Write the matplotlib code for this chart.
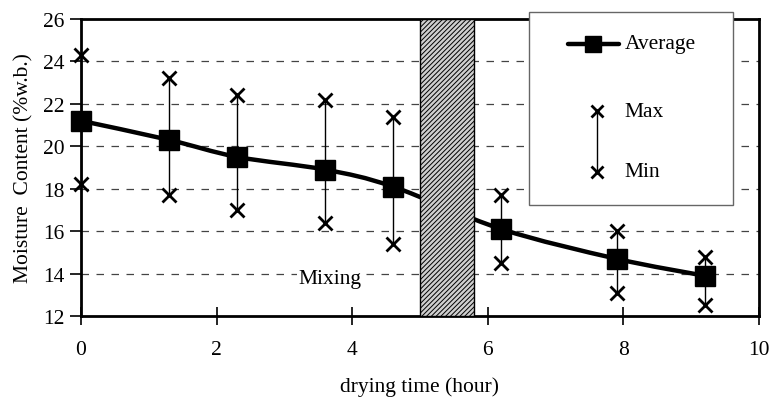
import numpy as np
import matplotlib
matplotlib.use("Agg")
import matplotlib.pyplot as plt
from matplotlib.path import Path
from matplotlib.patches import PathPatch, Rectangle
from matplotlib.lines import Line2D

plt.rcParams['font.family'] = ['Liberation Serif', 'DejaVu Serif']
plt.rcParams['hatch.linewidth'] = 0.7
plt.rcParams['hatch.color'] = '#505050'

# drying time (hour) and moisture content (%w.b.)
hours = [0, 1.3, 2.3, 3.6, 4.6, 6.2, 7.9, 9.2]
avg_mc = [21.2, 20.3, 19.5, 18.9, 18.1, 16.1, 14.7, 13.9]
max_mc = [24.3, 23.2, 22.4, 22.2, 21.4, 17.7, 16.0, 14.8]
min_mc = [18.2, 17.7, 17.0, 16.4, 15.4, 14.5, 13.1, 12.5]
mixing_start, mixing_end = 5.0, 5.8

FS = 15.5


def smooth_path(xs, ys):
    # excel-like smoothed line, bezier segments through the points
    pts = np.column_stack([xs, ys])
    verts = [pts[0]]
    codes = [Path.MOVETO]
    n = len(pts)
    for i in range(n - 1):
        p0 = pts[max(i - 1, 0)]
        p1 = pts[i]
        p2 = pts[i + 1]
        p3 = pts[min(i + 2, n - 1)]
        c1 = p1 + (p2 - p0) / 6.0
        c2 = p2 - (p3 - p1) / 6.0
        verts += [c1, c2, p2]
        codes += [Path.CURVE4] * 3
    return Path(verts, codes)


fig = plt.figure(figsize=(7.72, 4.06), dpi=100)
ax = fig.add_axes([0.105, 0.219, 0.878, 0.732])

ax.set_xlim(0, 10)
ax.set_ylim(12, 26)
ax.set_xticks([0, 2, 4, 6, 8, 10])
ax.set_yticks([12, 14, 16, 18, 20, 22, 24, 26])

for y in [14, 16, 18, 20, 22, 24]:
    ax.axhline(y, color='#444444', lw=0.9, ls=(0, (6, 6)), zorder=0)

ax.add_patch(PathPatch(smooth_path(hours, avg_mc), fill=False, lw=3.2,
                       edgecolor='black', zorder=2, capstyle='round'))
ax.plot(hours, avg_mc, ls='none', marker='s', ms=15, color='black',
        zorder=3, clip_on=False)

ax.vlines(hours, min_mc, max_mc, color='black', lw=1.0, zorder=3)
ax.plot(hours, max_mc, ls='none', marker='x', ms=10, mew=2, color='black',
        zorder=4, clip_on=False)
ax.plot(hours, min_mc, ls='none', marker='x', ms=10, mew=2, color='black',
        zorder=4, clip_on=False)

ax.add_patch(Rectangle((mixing_start, 12), mixing_end - mixing_start, 14,
                       facecolor='#cfcfcf', edgecolor='black', lw=1.0,
                       hatch='///////', zorder=5))
ax.text(3.67, 13.75, 'Mixing', fontsize=FS, ha='center', va='center',
        zorder=6, bbox=dict(facecolor='white', edgecolor='none', pad=1))

for s in ax.spines.values():
    s.set_linewidth(2.0)
ax.tick_params(axis='y', direction='out', length=8, width=1.2, labelsize=FS, pad=4)
ax.tick_params(axis='x', direction='inout', length=13, width=1.2, labelsize=FS, pad=11)

ax.set_ylabel('Moisture  Content (%w.b.)', fontsize=FS, labelpad=7)
ax.set_xlabel('drying time (hour)', fontsize=FS, labelpad=12)

# legend box drawn by hand, it sits over the top frame
tr = ax.transAxes
ax.add_patch(Rectangle((0.661, 0.374), 0.301, 0.65, transform=tr,
                       facecolor='white', edgecolor='#666666', lw=1.0,
                       zorder=10, clip_on=False))
ax.add_line(Line2D([0.718, 0.794], [0.916, 0.916], transform=tr, color='black',
                   lw=3.2, solid_capstyle='round', zorder=11, clip_on=False))
ax.add_line(Line2D([0.756], [0.916], transform=tr, color='black', marker='s',
                   ms=12, zorder=11, clip_on=False))
ax.add_line(Line2D([0.761, 0.761], [0.485, 0.690], transform=tr, color='black',
                   lw=1.0, zorder=11, clip_on=False))
ax.add_line(Line2D([0.761, 0.761], [0.485, 0.690], transform=tr, color='black',
                   ls='none', marker='x', ms=8, mew=2, zorder=12, clip_on=False))
ax.text(0.802, 0.916, 'Average', transform=tr, fontsize=FS, va='center', zorder=12)
ax.text(0.802, 0.690, 'Max', transform=tr, fontsize=FS, va='center', zorder=12)
ax.text(0.802, 0.485, 'Min', transform=tr, fontsize=FS, va='center', zorder=12)

fig.savefig('out.png', dpi=100)
